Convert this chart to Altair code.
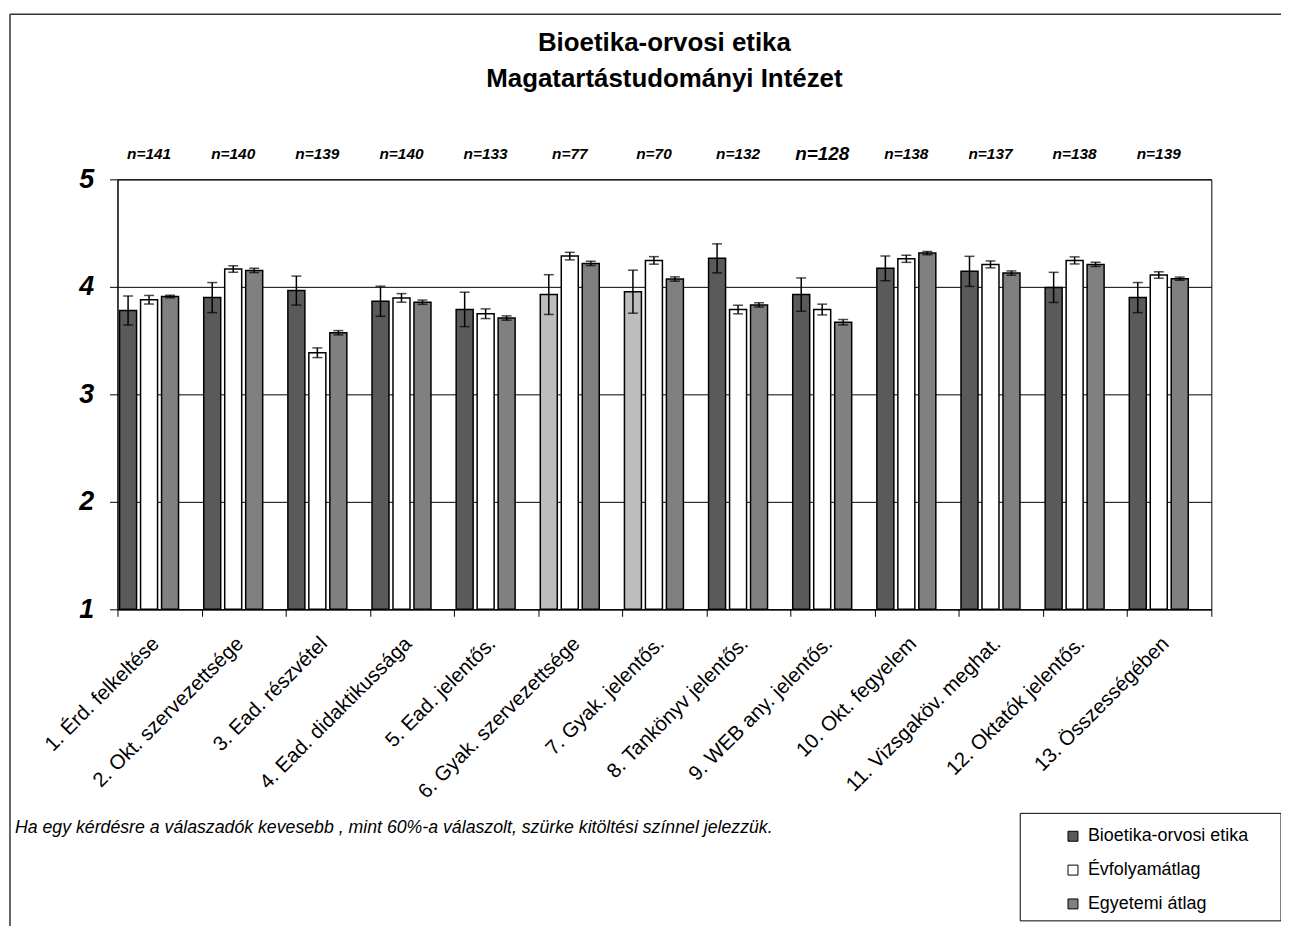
import altair as alt
import pandas as pd

FONT = "Liberation Sans, Arial, sans-serif"

categories = [
    "1. Érd. felkeltése", "2. Okt. szervezettsége", "3. Ead. részvétel",
    "4. Ead. didaktikussága", "5. Ead. jelentős.", "6. Gyak. szervezettsége",
    "7. Gyak. jelentős.", "8. Tankönyv jelentős.", "9. WEB any. jelentős.",
    "10. Okt. fegyelem", "11. Vizsgaköv. meghat.", "12. Oktatók jelentős.",
    "13. Összességében",
]
n_values = [141, 140, 139, 140, 133, 77, 70, 132, 128, 138, 137, 138, 139]

bio = [3.78, 3.90, 3.965, 3.866, 3.79, 3.928, 3.955, 4.265, 3.928, 4.172, 4.144, 3.995, 3.90]
bio_err = [0.135, 0.14, 0.135, 0.14, 0.16, 0.185, 0.2, 0.135, 0.155, 0.115, 0.14, 0.14, 0.14]
evf = [3.88, 4.166, 3.387, 3.897, 3.75, 4.286, 4.246, 3.789, 3.789, 4.261, 4.209, 4.246, 4.11]
evf_err = [0.04, 0.03, 0.045, 0.04, 0.045, 0.035, 0.035, 0.04, 0.05, 0.033, 0.032, 0.033, 0.03]
egy = [3.91, 4.153, 3.573, 3.857, 3.71, 4.218, 4.073, 3.832, 3.671, 4.314, 4.128, 4.209, 4.076]
egy_err = [0.012, 0.02, 0.02, 0.02, 0.02, 0.02, 0.02, 0.02, 0.025, 0.015, 0.02, 0.02, 0.015]

series_names = ["Bioetika-orvosi etika", "Évfolyamátlag", "Egyetemi átlag"]
low_label = "Bioetika-orvosi etika (kevés válasz)"
title_lines = ["Bioetika-orvosi etika", "Magatartástudományi Intézet"]
footnote = ("Ha egy kérdésre a válaszadók kevesebb , mint 60%-a válaszolt, "
            "szürke kitöltési színnel jelezzük.")

# ---- build tables ----
rows = []
nmax = max(n_values)
for i, c in enumerate(categories):
    low = n_values[i] < 0.6 * nmax
    for s, vals, errs in zip(series_names, [bio, evf, egy], [bio_err, evf_err, egy_err]):
        fill = low_label if (s == series_names[0] and low) else s
        rows.append(dict(cat=c, series=s, value=vals[i],
                         lo=vals[i] - errs[i], hi=vals[i] + errs[i], fill=fill))
df = pd.DataFrame(rows)
ndf = pd.DataFrame({"cat": categories, "n": n_values, "series": series_names[1]})
ndf["label"] = "n=" + ndf["n"].astype(str)
one = pd.DataFrame({"k": [0]})

W, H = 1099, 432
TOTAL_H = 918

x_scale = alt.Scale(domain=categories, paddingInner=0, paddingOuter=0)
xoff_scale = alt.Scale(domain=series_names + ["_"], paddingInner=0.19, paddingOuter=0.1)
y_scale = alt.Scale(domain=[1, 5], nice=False, zero=False)

x_enc = alt.X("cat:N", scale=x_scale, sort=categories, axis=alt.Axis(
    title=None, labelAngle=-45, labelAlign="right", labelBaseline="middle",
    labelFont=FONT, labelFontSize=20.5, labelColor="black", labelLimit=400,
    labelPadding=24, labelOffset=-4, tickBand="extent", tickSize=7,
    tickColor="black", domainColor="black", grid=False))
xo_enc = alt.XOffset("series:N", scale=xoff_scale)

bars = alt.Chart(df).mark_bar(stroke="black", strokeWidth=1.5).encode(
    x=x_enc,
    xOffset=xo_enc,
    y=alt.Y("value:Q", scale=y_scale, axis=alt.Axis(
        title=None, values=[1, 2, 3, 4, 5], format="d",
        labelFont=FONT, labelFontSize=27, labelFontWeight="bold",
        labelFontStyle="italic", labelColor="black", labelPadding=16,
        tickSize=8, tickColor="black", domainColor="black",
        grid=True, gridColor="black", gridOpacity=1, gridWidth=1)),
    y2=alt.datum(1),
    color=alt.Color("fill:N", scale=alt.Scale(
        domain=series_names + [low_label],
        range=["#5a5a5a", "#ffffff", "#808080", "#bdbdbd"]),
        legend=alt.Legend(
            values=series_names, orient="none", legendX=951, legendY=651,
            title=None, symbolType="square", symbolSize=100,
            symbolStrokeColor="black", symbolStrokeWidth=1,
            labelFont=FONT, labelFontSize=18, labelColor="black",
            labelLimit=400, labelOffset=6, rowPadding=16, padding=0)),
)

err = alt.Chart(df).mark_rule(color="black", strokeWidth=1.5).encode(
    x=alt.X("cat:N", scale=x_scale, sort=categories),
    xOffset=xo_enc,
    y=alt.Y("lo:Q", scale=y_scale),
    y2="hi:Q",
)
cap_lo = alt.Chart(df).mark_tick(color="black", thickness=1.5, size=10).encode(
    x=alt.X("cat:N", scale=x_scale, sort=categories),
    xOffset=xo_enc,
    y=alt.Y("lo:Q", scale=y_scale),
)
cap_hi = alt.Chart(df).mark_tick(color="black", thickness=1.5, size=10).encode(
    x=alt.X("cat:N", scale=x_scale, sort=categories),
    xOffset=xo_enc,
    y=alt.Y("hi:Q", scale=y_scale),
)

nlabels = alt.Chart(ndf).mark_text(
    font=FONT, fontWeight="bold", fontStyle="italic", baseline="middle",
    align="center", color="black").encode(
    x=alt.X("cat:N", scale=x_scale, sort=categories),
    xOffset=alt.XOffset("series:N", scale=xoff_scale),
    y=alt.value(-25),
    text="label:N",
    size=alt.condition(alt.datum.n == 128, alt.value(19), alt.value(15.5)),
)

title = alt.Chart(one).mark_text(
    font=FONT, fontSize=26, fontWeight="bold", align="center",
    baseline="alphabetic", lineHeight=36, color="black").encode(
    x=alt.value(W / 2), y=alt.value(-129), text=alt.value(title_lines))

foot = alt.Chart(one).mark_text(
    font=FONT, fontSize=17.8, fontStyle="italic", align="left",
    baseline="alphabetic", color="black").encode(
    x=alt.value(-103), y=alt.value(657), text=alt.value(footnote))

legend_box = alt.Chart(one).mark_rect(filled=False, color="black", strokeWidth=1).encode(
    x=alt.value(907), x2=alt.value(1169), y=alt.value(637), y2=alt.value(745))

border_left = alt.Chart(one).mark_rule(color="#333333", strokeWidth=1.5).encode(
    x=alt.value(-108), y=alt.value(-166), y2=alt.value(TOTAL_H))
border_top = alt.Chart(one).mark_rule(color="#333333", strokeWidth=1.5).encode(
    x=alt.value(-108), x2=alt.value(1300), y=alt.value(-166))

chart = alt.layer(
    border_left, border_top, bars, err, cap_lo, cap_hi, nlabels, title, foot, legend_box
).properties(
    width=W, height=H,
    padding={"left": 110, "top": 170, "right": 70, "bottom": TOTAL_H - 170 - H},
    autosize=alt.AutoSizeParams(type="none"),
    background="white",
).configure_view(stroke="black", strokeWidth=1)

chart.save("out.html", embed_options={"renderer": "svg", "actions": False})
